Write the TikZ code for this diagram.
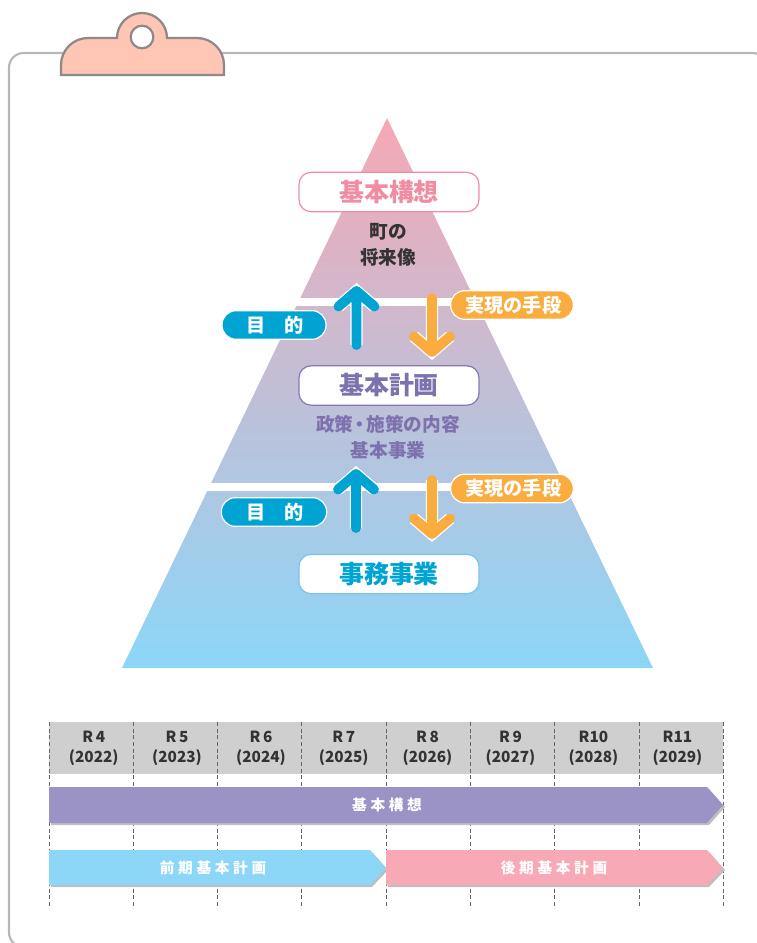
\documentclass[tikz,border=0pt]{standalone}
\usepackage{fontspec}
\setmainfont{Noto Sans CJK JP}
\newfontfamily\spaced[LetterSpace=25]{Noto Sans CJK JP}
\definecolor{framegray}{HTML}{B9B6B6}
\definecolor{clipfill}{HTML}{FFC6B6}
\definecolor{clipline}{HTML}{8F8A87}
\definecolor{toppink}{HTML}{F5A8B5}
\definecolor{lowblue}{HTML}{8CD6F8}
\definecolor{boxpink}{HTML}{F18DA2}
\definecolor{boxpurple}{HTML}{8377B5}
\definecolor{boxblue}{HTML}{7CC3EA}
\definecolor{textpurple}{HTML}{7E72AE}
\definecolor{teal}{HTML}{00A4D3}
\definecolor{amber}{HTML}{FBAC3F}
\definecolor{headgray}{HTML}{CFCFCF}
\definecolor{barpurple}{HTML}{9B92C6}
\definecolor{barblue}{HTML}{8CD6F7}
\definecolor{barpink}{HTML}{F7A9B5}
\tikzset{
  levelbox/.style={draw,fill=white,rounded corners=9pt,line width=.9pt,minimum width=135pt,minimum height=29.5pt,inner sep=0pt,font=\fontsize{18.7}{18.7}\selectfont\bfseries},
  levelnote/.style={font=\fontsize{14}{14}\selectfont\bfseries,inner sep=0pt},
  pill/.style={draw=white,line width=.9pt,rounded corners=10.5pt,text=white,inner sep=0pt,minimum height=21.5pt,font=\fontsize{14.4}{14.4}\selectfont\bfseries},
  flow/.style={line width=7.4pt,line cap=round,line join=round,preaction={draw=white,line width=9.2pt}},
  yearlabel/.style={font=\fontsize{11.5}{15}\selectfont\bfseries,text=black!80,align=center,inner sep=0pt},
  barlabel/.style={font=\spaced\fontsize{11}{11}\selectfont\bfseries,text=white,inner sep=0pt},
  yearline/.style={densely dashed,line width=.6pt,draw=black!60},
}
\begin{document}
\begin{tikzpicture}[x=.75pt,y=-.75pt]
  \useasboundingbox (0,0) rectangle (757,943);
  % frame and clip
  \draw[framegray,line width=1.6pt,rounded corners=11pt] (9,53) rectangle (767,947);
  \draw[clipline,fill=clipfill,line width=1.7pt] (61,75) -- (61,65) arc[start angle=180,end angle=270,radius=27] -- (117,38)
    arc[start angle=180,end angle=360,radius=25] -- (197,38) arc[start angle=270,end angle=360,radius=27] -- (224,75) -- cycle;
  \node[circle,draw=clipline,fill=white,line width=1.7pt,minimum size=17pt,inner sep=0pt] (hole) at (142,37) {};
  % pyramid
  \shade[top color=toppink,bottom color=lowblue] (387,118) -- (653,668) -- (122,668) -- cycle;
  \fill[white] (250,298) rectangle (520,306);
  \fill[white] (150,483) rectangle (620,491);
  \node[levelbox,draw=boxpink,text=boxpink] (plan1) at (389,192) {\raisebox{-1pt}{基本構想}};
  \node[levelnote,text=black!80] (note1a) at (388,232) {町の};
  \node[levelnote,text=black!80] (note1b) at (388,257) {将来像};
  \node[levelbox,draw=boxpurple,text=textpurple] (plan2) at (389,385.5) {基本計画};
  \node[levelnote,text=textpurple] (note2a) at (388,424) {政策\kern-.16em・\kern-.16em施策の内容};
  \node[levelnote,text=textpurple] (note2b) at (388,450) {基本事業};
  \node[levelbox,draw=boxblue,text=teal] (plan3) at (389,574) {事務事業};
  % arrows
  \foreach \n/\x/\a/\b/\s/\c in {up1/356.5/345/291/1/teal,dn1/432/298/352/-1/amber,up2/356/528/474/1/teal,dn2/432/480/534/-1/amber} {
    \coordinate (\n a) at (\x,\a);
    \coordinate (\n b) at (\x,\b);
    \coordinate (\n l) at (\x-18,\b+\s*15.5);
    \coordinate (\n r) at (\x+18,\b+\s*15.5);
    \draw[flow,\c] (\n a) -- (\n b) (\n l) -- (\n b) -- (\n r);
  }
  \node[pill,fill=teal,minimum width=78pt] (aim1) at (274,325) {\hspace{2pt}目\hspace{1em}的};
  \node[pill,fill=teal,minimum width=79pt] (aim2) at (274,512) {\hspace{2pt}目\hspace{1em}的};
  \node[pill,fill=amber,minimum width=92pt] (means1) at (512,305) {\hspace{2pt}実現の手段};
  \node[pill,fill=amber,minimum width=92pt] (means2) at (512,488.5) {\hspace{2pt}実現の手段};
  % schedule
  \fill[headgray] (49,722) rectangle (723,774);
  \foreach \x in {49,133,217,301,386,470,554,639,723}
    \draw[yearline] (\x,722) -- (\x,906);
  \foreach \x/\r/\y in {93.8/R\,4/2022,177/R\,5/2023,261/R\,6/2024,343.8/R\,7/2025,427.5/R\,8/2026,510.5/R\,9/2027,593.5/R10/2028,677.5/R11/2029}
    \node[yearlabel] (y\y) at (\x,748) {\r\\(\y)};
  \fill[black!25] (51,789) -- (709,789) -- (725,807) -- (709,825) -- (51,825) -- cycle;
  \fill[barpurple] (49,787) -- (707,787) -- (723,805) -- (707,823) -- (49,823) -- cycle;
  \fill[black!25] (51,852) -- (372,852) -- (388,870) -- (372,887) -- (51,887) -- cycle;
  \fill[barblue] (49,850) -- (370,850) -- (386,868) -- (370,885) -- (49,885) -- cycle;
  \fill[black!25] (388,852) -- (709,852) -- (725,870) -- (709,887) -- (388,887) -- cycle;
  \fill[barpink] (386,850) -- (707,850) -- (723,868) -- (707,885) -- (386,885) -- cycle;
  \node[barlabel] (bar1) at (387,805) {基本構想};
  \node[barlabel] (bar2) at (213,868) {前期基本計画};
  \node[barlabel] (bar3) at (554,868) {後期基本計画};
\end{tikzpicture}
\end{document}
